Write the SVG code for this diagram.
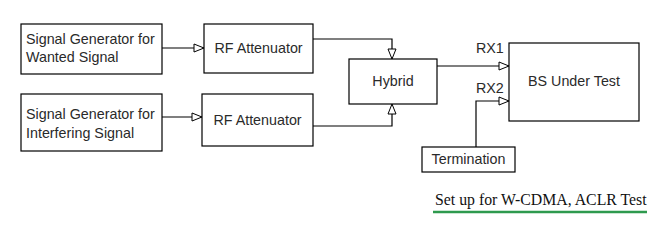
<svg xmlns="http://www.w3.org/2000/svg" width="656" height="226" viewBox="0 0 656 226">
<defs>
<style>
.box{fill:#fff;stroke:#000;stroke-width:1.2}
.t{font-family:"Liberation Sans",Arial,sans-serif;font-size:14.3px;fill:#2a2a2a}
.c{text-anchor:middle}
.ln{fill:none;stroke:#000;stroke-width:1.2}
</style>
<marker id="ah" markerWidth="12" markerHeight="10" refX="11" refY="5" orient="auto" markerUnits="userSpaceOnUse">
<path d="M1,1 L11,5 L1,9 Z" fill="#fff" stroke="#000" stroke-width="1"/>
</marker>
</defs>
<rect width="656" height="226" fill="#fff"/>
<g id="sg1"><rect class="box" x="21" y="24" width="141" height="50"/>
<text class="t" x="26" y="44">Signal Generator for</text><text class="t" x="26" y="62">Wanted Signal</text></g>
<g id="att1"><rect class="box" x="204" y="24" width="109" height="49"/>
<text class="t c" x="258.5" y="53">RF Attenuator</text></g>
<g id="sg2"><rect class="box" x="21" y="94" width="141" height="57"/>
<text class="t" x="26" y="119">Signal Generator for</text><text class="t" x="26" y="138">Interfering Signal</text></g>
<g id="att2"><rect class="box" x="202" y="94" width="111" height="52"/>
<text class="t c" x="257.5" y="125">RF Attenuator</text></g>
<g id="hybrid"><rect class="box" x="349" y="59" width="88" height="45"/>
<text class="t c" x="393" y="86">Hybrid</text></g>
<g id="bs"><rect class="box" x="509" y="43" width="130" height="78"/>
<text class="t c" x="574" y="86">BS Under Test</text></g>
<g id="term"><rect class="box" x="422" y="147" width="93" height="25"/>
<text class="t c" x="468.5" y="164">Termination</text></g>
<g id="connectors">
<path class="ln" d="M162,48 H204" marker-end="url(#ah)"/>
<path class="ln" d="M162,117 H202" marker-end="url(#ah)"/>
<path class="ln" d="M313,39 H392 V59" marker-end="url(#ah)"/>
<path class="ln" d="M313,126 H392 V104" marker-end="url(#ah)"/>
<path class="ln" d="M437,66 H509" marker-end="url(#ah)"/>
<path class="ln" d="M476,147 V101 H509" marker-end="url(#ah)"/>
<text class="t" x="476" y="53">RX1</text>
<text class="t" x="476" y="93">RX2</text>
</g>
<g id="caption">
<text x="435" y="205" font-family="'Liberation Serif','Times New Roman',serif" font-size="15.8" fill="#111">Set up for W-CDMA, ACLR Test</text>
<line x1="433" y1="212" x2="647" y2="212" stroke="#2e9a4e" stroke-width="2.5"/>
</g>
</svg>
